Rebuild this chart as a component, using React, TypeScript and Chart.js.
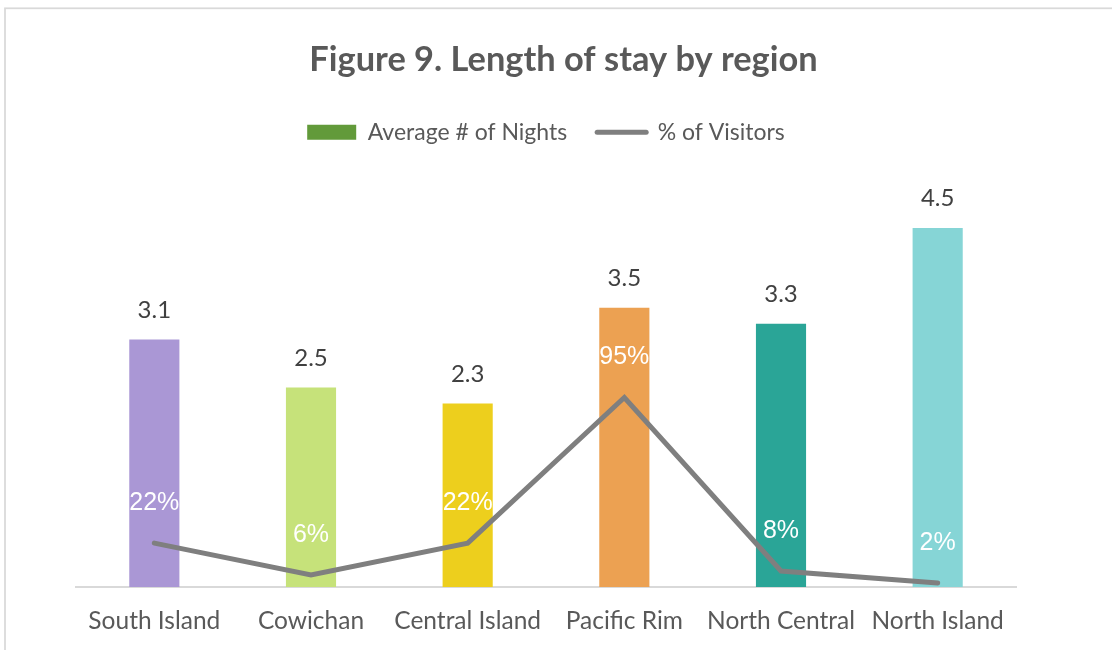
import React, { useEffect, useRef } from 'react';
import { Chart, registerables } from 'chart.js';

Chart.register(...registerables);

const titleText = 'Figure 9. Length of stay by region';
const categories = ['South Island', 'Cowichan', 'Central Island', 'Pacific Rim', 'North Central', 'North Island'];
const avgNights = [3.1, 2.5, 2.3, 3.5, 3.3, 4.5];
const pctVisitors = [22, 6, 22, 95, 8, 2];
const barColors = ['#AA97D5', '#C6E27A', '#EDCF1D', '#ECA152', '#2AA597', '#86D5D6'];
const legendLabels = ['Average # of Nights', '% of Visitors'];

const frameAndLabels = {
  id: 'frameAndLabels',
  beforeDraw(chart: any) {
    const ctx = chart.ctx;
    ctx.save();
    ctx.fillStyle = '#ffffff';
    ctx.fillRect(0, 0, chart.width, chart.height);
    ctx.strokeStyle = '#D9D9D9';
    ctx.lineWidth = 1.75;
    ctx.strokeRect(5, 8.3, chart.width + 50, chart.height + 50);
    ctx.restore();
  },
  afterDraw(chart: any) {
    const ctx = chart.ctx;
    ctx.save();
    ctx.textAlign = 'center';
    ctx.textBaseline = 'middle';
    ctx.font = 'bold 34.4px Lato';
    ctx.fillStyle = '#595959';
    ctx.fillText(titleText, 563.5, 60.4);
    ctx.restore();
  },
  afterDatasetsDraw(chart: any) {
    const ctx = chart.ctx;
    ctx.save();
    ctx.textAlign = 'center';
    ctx.textBaseline = 'middle';
    const barMeta = chart.getDatasetMeta(0);
    ctx.font = '24px Lato';
    ctx.fillStyle = '#404040';
    barMeta.data.forEach((el: any, i: number) => {
      ctx.fillText(String(avgNights[i].toFixed(1)), el.x, el.y - 29.5);
    });
    const lineMeta = chart.getDatasetMeta(1);
    ctx.font = '25px "Liberation Sans"';
    ctx.fillStyle = '#FFFFFF';
    lineMeta.data.forEach((el: any, i: number) => {
      ctx.fillText(pctVisitors[i] + '%', el.x, el.y - 40);
    });
    ctx.restore();
  },
};

export default function App() {
  const ref = useRef<HTMLCanvasElement | null>(null);
  useEffect(() => {
    document.body.style.margin = '0';
    const canvas = ref.current;
    if (!canvas) return;
    const chart = new Chart(canvas, {
      type: 'bar',
      data: {
        labels: categories,
        datasets: [
          {
            type: 'bar',
            label: legendLabels[0],
            data: avgNights,
            backgroundColor: barColors,
            categoryPercentage: 1,
            barPercentage: 0.32,
            yAxisID: 'y',
            order: 1,
          },
          {
            type: 'line',
            label: legendLabels[1],
            data: pctVisitors,
            borderColor: '#7F7F7F',
            backgroundColor: '#7F7F7F',
            borderWidth: 5,
            pointRadius: 0,
            tension: 0,
            borderCapStyle: 'round',
            borderJoinStyle: 'miter',
            yAxisID: 'y2',
            order: 0,
          } as any,
        ],
      },
      options: {
        responsive: false,
        animation: false,
        layout: { padding: { top: 0, left: 76, right: 96, bottom: -5 } },
        plugins: {
          tooltip: { enabled: false },
          title: {
            display: true,
            text: '',
            font: { size: 1, lineHeight: 1 },
            padding: { top: 40, bottom: 49.8 },
          },
          subtitle: {
            display: true,
            text: '',
            weight: 500,
            font: { size: 1, lineHeight: 1 },
            padding: { top: 33.2, bottom: 0 },
          },
          legend: {
            display: true,
            position: 'top',
            labels: {
              color: '#595959',
              font: { family: 'Lato', size: 23 },
              padding: 30,
              usePointStyle: true,
              pointStyleWidth: 49,
              boxHeight: 15,
              generateLabels: () => [
                {
                  text: legendLabels[0],
                  fillStyle: '#629A3A',
                  strokeStyle: '#629A3A',
                  lineWidth: 0,
                  pointStyle: 'rect',
                  hidden: false,
                  datasetIndex: 0,
                  fontColor: '#595959',
                },
                {
                  text: legendLabels[1],
                  fillStyle: '#7F7F7F',
                  strokeStyle: '#7F7F7F',
                  lineWidth: 5,
                  lineCap: 'round',
                  pointStyle: 'line',
                  hidden: false,
                  datasetIndex: 1,
                  fontColor: '#595959',
                },
              ] as any,
            },
          },
        },
        scales: {
          x: {
            grid: { display: false, drawTicks: false },
            border: { display: true, color: '#D9D9D9', width: 2 },
            ticks: {
              color: '#595959',
              font: { family: 'Lato', size: 24.5 },
              padding: 19.3,
              maxRotation: 0,
              autoSkip: false,
            },
          },
          y: { display: false, min: 0, max: 5 },
          y2: { display: false, min: 0, max: 200, position: 'right' },
        },
      } as any,
      plugins: [frameAndLabels],
    });
    return () => chart.destroy();
  }, []);
  return <canvas ref={ref} width={1112} height={650} style={{ display: 'block' }} />;
}
